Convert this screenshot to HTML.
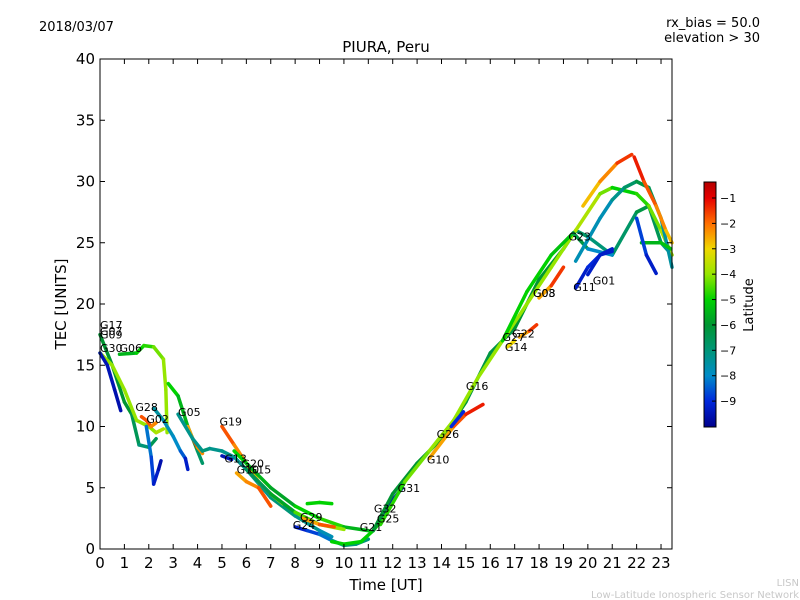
<!DOCTYPE html>
<html><head><meta charset="utf-8"><style>
body{margin:0;background:#fff;}
svg{display:block;font-family:"DejaVu Sans","Liberation Sans",sans-serif;}
</style></head><body>
<svg id="c" width="800" height="600">
<rect width="800" height="600" fill="#fff"/>
<text x="39" y="31" font-size="13">2018/03/07</text>
<text x="760" y="27" font-size="13" text-anchor="end">rx_bias = 50.0</text>
<text x="760" y="42" font-size="13" text-anchor="end">elevation &gt; 30</text>
<text x="386" y="52" font-size="15" text-anchor="middle">PIURA, Peru</text>
<g id="marks"></g>
<rect x="100" y="59" width="572" height="490" fill="none" stroke="#000" stroke-width="1"/>
<g id="axes"></g>
<text x="386" y="590" font-size="15" text-anchor="middle">Time [UT]</text>
<text x="66" y="304" font-size="15" text-anchor="middle" transform="rotate(-90 66 304)">TEC [UNITS]</text>
<defs><linearGradient id="jet" x1="0" y1="1" x2="0" y2="0"></linearGradient></defs>
<rect x="704" y="182" width="12" height="245" fill="url(#jet)" stroke="#000" stroke-width="1"/>
<g id="cbticks"></g>
<text x="753" y="305" font-size="13" text-anchor="middle" transform="rotate(-90 753 305)">Latitude</text>
<text x="799" y="586" font-size="10" fill="#c8c8c8" text-anchor="end">LISN</text>
<text x="799" y="598" font-size="10" fill="#c8c8c8" text-anchor="end">Low-Latitude Ionospheric Sensor Network</text>
</svg>
<script>
const xTicks=[0,1,2,3,4,5,6,7,8,9,10,11,12,13,14,15,16,17,18,19,20,21,22,23];
const yTicks=[0,5,10,15,20,25,30,35,40];
const latTicks=[-1,-2,-3,-4,-5,-6,-7,-8,-9];
const trackNames=["t1","t2","t3","g06","g28","g02b","g02c","g05","g05r","teal","g19","g13b","g13","g15","g15r","g29a","g29b","g24","bot","g31","rise1","rise2","g26","g26b","rise3","g11","g01","teal2","redfall","grn","bluefall","g22","g14","g08","orng"];
const trackT={
t1:[0,0.5,1,1.3,1.6,2,2.3],t2:[0,0.5,1,1.5,2,2.3,2.6],t3:[0,0.3,0.6,0.85],
g06:[0.8,1.5,1.8,2.2,2.6,2.7,2.75],g28:[1.7,1.9,2.1,2.3],g02b:[2.2,2.6,3,3.3,3.5,3.6],g02c:[1.9,2.1,2.2,2.4,2.5],
g05:[2.8,3.2,3.6,4,4.2],g05r:[3.6,3.8,4,4.2],teal:[3.2,3.8,4.2,4.5,5,5.5,6,7,8,9,9.5],
g19:[5,5.5,6,6.5,7,7.5],g13b:[5,5.4],g13:[5.5,6,7,8,9,10,11],g15:[6,7,8,9,10],g15r:[5.6,6,6.5,7],
g29a:[8.5,9,9.5],g29b:[8.3,9,9.6],g24:[8,8.5,9,9.5,10,10.5,11],bot:[9.5,10,10.7,11.2,11.8],g31:[11.5,12,12.4],
rise1:[11.2,12,13,14,15,16,17,18,19,19.5,20,21,22,22.5,23,23.45],
rise2:[11.5,12.5,13.5,14.5,15.5,16.5,17.5,18.5,19.5,20.5,21,22,22.5,23,23.45],
g26:[13.5,14.5,15,15.7],g26b:[14.4,14.9],rise3:[16.5,17.5,18.5,19.4,20,21],
g11:[19.5,20,20.5,21],g01:[20,20.5,21],teal2:[19.5,20.5,21,21.5,22,22.5,23,23.45],
redfall:[21.9,22.3,22.8,23.2,23.45],grn:[22.2,23,23.4],bluefall:[22,22.4,22.8],g22:[17.2,17.6,17.9],g14:[16.7,17],g08:[18,18.5,19],orng:[19.8,20.5,21.2,21.8]};
const trackTEC={
t1:[17.5,15,12,11,8.5,8.3,9],t2:[16,15,13,10.5,10,9.5,9.8],t3:[16,15,13,11.3],
g06:[15.9,16,16.6,16.5,15.5,13,9.5],g28:[10.8,10.5,10,10.3],g02b:[11.5,10.5,9.2,8,7.4,6.5],g02c:[10,7.5,5.3,6.5,7.2],
g05:[13.5,12.5,10,8,7],g05r:[10,9,8.3,7.8],teal:[11,9,8,8.2,8,7.5,6.5,4.2,2.7,1.5,1],
g19:[10,8.5,7,5.5,4.5,3.7],g13b:[7.6,7.3],g13:[8,7,5,3.5,2.5,1.8,1.5],g15:[6.5,4.5,3,2,1.6],g15r:[6.2,5.5,5,3.5],
g29a:[3.7,3.8,3.7],g29b:[2.5,2,1.8],g24:[1.8,1.5,1.2,0.7,0.3,0.4,0.8],bot:[0.6,0.4,0.6,1.5,3],g31:[2.5,4,5],
rise1:[1.5,4.5,7,9,12,16,18,22,24.5,26,25.5,24,27.5,28,25,24],
rise2:[2,5.5,8,10.5,14,17,20,23,26,29,29.5,29,28,26,24],
g26:[7.4,10,11,11.8],g26b:[10,11.2],rise3:[17,21,24,25.8,24.5,24],
g11:[21.3,23,24,24.3],g01:[22.4,24,24.5],teal2:[23.5,27,28.5,29.5,30,29.5,27,23],
redfall:[32,30,28,26,25],grn:[25,25,24.5],bluefall:[27,24,22.5],g22:[17.3,17.8,18.3],g14:[16.5,17],g08:[20.5,21.5,23],orng:[28,30,31.5,32.2]};
const trackLat={
t1:[-6,-6,-6,-6,-7,-7,-6],t2:[-4,-4,-4,-4,-4,-4,-3.5],t3:[-9.5,-9.5,-9.5,-9.7],
g06:[-6,-5,-5,-4.5,-4,-4,-4],g28:[-1.5,-2,-1.5,-3],g02b:[-7.5,-7.5,-8,-8,-9,-9.5],g02c:[-8,-8.5,-9,-9.5,-9.7],
g05:[-5,-5,-6,-6.5,-7],g05r:[-3,-2,-1.5,-3],teal:[-7,-7.5,-7,-7,-7.5,-7,-7.5,-7,-7,-7.5,-8],
g19:[-1.5,-2,-2.5,-3,-3,-3.5],g13b:[-9.5,-9.5],g13:[-5,-5,-6,-5.5,-4.5,-5,-6],g15:[-6.5,-6.5,-5,-4,-4],g15r:[-2.5,-2.5,-2,-1.5],
g29a:[-5,-5,-5],g29b:[-3,-2,-1.5],g24:[-9.5,-9,-8.5,-8,-7,-7,-7],bot:[-5,-5,-5,-5,-5],g31:[-9.5,-9.5,-9.5],
rise1:[-6,-6,-6,-6,-6,-6.5,-6,-6,-6,-6.5,-7,-7,-6.5,-6,-7,-7.5],
rise2:[-5,-4.5,-4,-4,-4,-4,-4,-4,-4,-3.5,-5,-5,-4.5,-4,-3.5],
g26:[-3,-2,-1.5,-1],g26b:[-9,-9],rise3:[-5,-5,-5,-5.5,-7,-9],
g11:[-9.5,-9,-9,-9.5],g01:[-9.5,-9,-9.5],teal2:[-7.5,-8,-7.5,-7,-6.5,-6,-7,-8],
redfall:[-1,-1.5,-2,-2.5,-3],grn:[-5.5,-5.5,-5],bluefall:[-8.5,-9,-9.5],g22:[-3,-2,-1],g14:[-3,-3],g08:[-3,-2,-1],orng:[-3,-2.5,-2,-1]};
const labelNames=["G17","G07","G09","G30","G06","G28","G02","G05","G19","G13","G20","G10","G15","G29","G24","G21","G32","G25","G31","G10","G26","G16","G14","G27","G22","G08","G03","G23","G11","G01"];
const labelT=[0,0,0,0,0.8,1.45,1.9,3.2,4.9,5.1,5.8,5.6,6.1,8.2,7.9,10.65,11.23,11.35,12.2,13.4,13.8,15.0,16.6,16.5,16.9,17.75,17.75,19.2,19.4,20.2];
const labelTEC=[18.3,17.8,17.5,16.4,16.4,11.6,10.6,11.2,10.4,7.4,7.0,6.5,6.5,2.6,1.95,1.8,3.3,2.5,5.0,7.3,9.4,13.3,16.5,17.3,17.6,20.9,20.9,25.5,21.4,21.9];

const X0=100,X1=672,Y0=549,Y1=59,TMAX=23.45,YMAX=40;
const xs=t=>X0+t/TMAX*(X1-X0);
const ys=v=>Y0-v/YMAX*(Y0-Y1);
const LATMIN=-10.02,LATMAX=-0.37;
const cy=l=>427-(l-LATMIN)/(LATMAX-LATMIN)*245;
const CMAP=[[-10.02,[0,0,140]],[-9,[0,40,220]],[-8,[0,140,200]],[-7,[0,150,120]],[-6,[0,150,50]],[-5,[0,210,0]],[-4,[150,230,0]],[-3,[240,215,0]],[-2,[255,110,0]],[-1,[230,0,0]],[-0.37,[180,0,0]]];
function jet(l){
  if(l<=CMAP[0][0])return `rgb(${CMAP[0][1]})`;
  for(let i=0;i<CMAP.length-1;i++){const a=CMAP[i],b=CMAP[i+1];if(l<=b[0]){const f=(l-a[0])/(b[0]-a[0]);return 'rgb('+a[1].map((v,k)=>Math.round(v+(b[1][k]-v)*f)).join(',')+')';}}
  return `rgb(${CMAP[CMAP.length-1][1]})`;
}
const NS="http://www.w3.org/2000/svg";
function mk(tag,attrs,parent){const e=document.createElementNS(NS,tag);for(const k in attrs)e.setAttribute(k,attrs[k]);parent.appendChild(e);return e;}
const grad=document.getElementById('jet');
CMAP.forEach(s=>{mk('stop',{offset:(s[0]-LATMIN)/(LATMAX-LATMIN),'stop-color':`rgb(${s[1]})`},grad);});
const marks=document.getElementById('marks'),axes=document.getElementById('axes'),cbt=document.getElementById('cbticks');
trackNames.forEach(n=>{
  const g=mk('g',{},marks);
  
  
  const T=trackT[n],V=trackTEC[n],L=trackLat[n];
  for(let i=0;i<T.length-1;i++){
    const c=jet((L[i]+L[i+1])/2);
    const s=mk('line',{x1:xs(T[i]),y1:ys(V[i]),x2:xs(T[i+1]),y2:ys(V[i+1]),stroke:c,'stroke-width':3.5,'stroke-linecap':'round'},g);
    
    
  }
});
labelNames.forEach((n,i)=>{
  const t=mk('text',{x:xs(labelT[i]),y:ys(labelTEC[i])+4,'font-size':11},marks);
  t.textContent=n;
  
  
});
xTicks.forEach(v=>{
  const x=xs(v);
  const a=mk('line',{x1:x,y1:Y0,x2:x,y2:Y0-5,stroke:'#000'},axes);
  
  
  const b=mk('line',{x1:x,y1:Y1,x2:x,y2:Y1+5,stroke:'#000'},axes);
  
  
  const t=mk('text',{x:x,y:568,'font-size':15,'text-anchor':'middle'},axes);
  t.textContent=v;
  
  
});
yTicks.forEach(v=>{
  const y=ys(v);
  const a=mk('line',{x1:X0,y1:y,x2:X0+5,y2:y,stroke:'#000'},axes);
  
  
  const b=mk('line',{x1:X1,y1:y,x2:X1-5,y2:y,stroke:'#000'},axes);
  
  
  const t=mk('text',{x:95,y:y+5,'font-size':15,'text-anchor':'end'},axes);
  t.textContent=v;
  
  
});
latTicks.forEach(v=>{
  const y=cy(v);
  const a=mk('line',{x1:712,y1:y,x2:716,y2:y,stroke:'#000'},cbt);
  
  
  const t=mk('text',{x:720,y:y+4,'font-size':11},cbt);
  t.textContent='\u2212'+Math.abs(v);
  
  
});
</script>
</body></html>
